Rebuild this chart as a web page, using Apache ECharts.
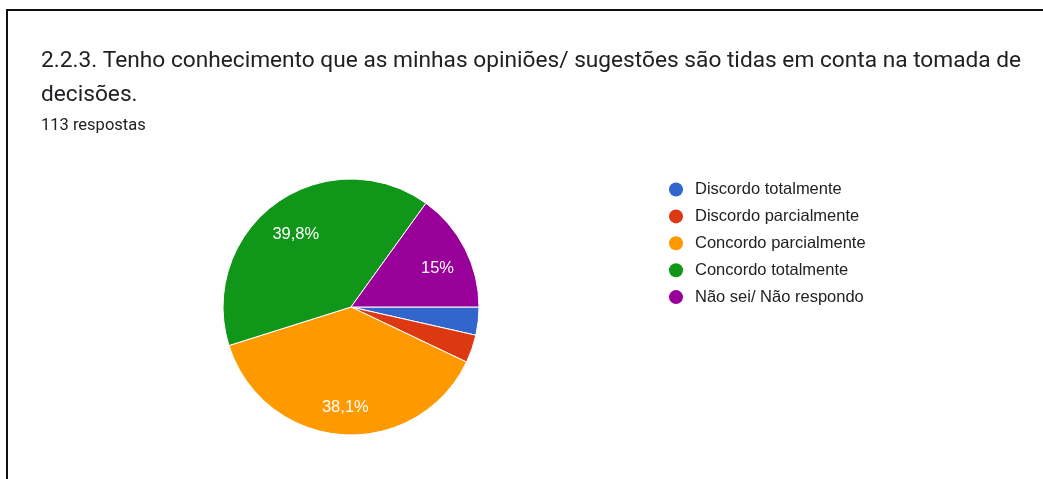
<!DOCTYPE html>
<html>
<head>
<meta charset="utf-8">
<script src="https://cdn.jsdelivr.net/npm/echarts@6/dist/echarts.min.js"></script>
<style>
html,body{margin:0;padding:0;background:#fff;}
#frame{position:absolute;left:6px;top:9px;width:1037px;height:470px;border-left:2px solid #111;border-top:2px solid #111;}
#chart{position:absolute;left:0;top:0;width:1043px;height:479px;}
</style>
</head>
<body>
<div id="frame"></div>
<div id="chart"></div>
<script>
const titleText = "2.2.3. Tenho conhecimento que as minhas opiniões/ sugestões são tidas em conta na tomada de\ndecisões.";
const subtitleText = "113 respostas";
const categories = ["Discordo totalmente", "Discordo parcialmente", "Concordo parcialmente", "Concordo totalmente", "Não sei/ Não respondo"];
const counts = [4, 4, 43, 45, 17];
const colors = ["#3366cc", "#dc3912", "#ff9900", "#109618", "#990099"];

const total = counts.reduce((a, b) => a + b, 0);
const data = categories.map((c, i) => ({ name: c, value: counts[i], itemStyle: { color: colors[i] } }));
function fmt(p) {
  const v = Math.round(p.value / total * 1000) / 10;
  let s = v.toFixed(1).replace('.', ',');
  if (s.endsWith(',0')) s = s.slice(0, -2);
  return s + '%';
}

const chart = echarts.init(document.getElementById('chart'), null, { renderer: 'canvas' });
chart.setOption({
  animation: false,
  title: [
    { text: titleText, left: 41, top: 44, padding: 0, textStyle: { fontFamily: 'Roboto', fontSize: 22.7, fontWeight: 'normal', color: '#202124', lineHeight: 34 } },
    { text: subtitleText, left: 41, top: 117, padding: 0, textStyle: { fontFamily: 'Roboto', fontSize: 16.5, fontWeight: 'normal', color: '#202124' } }
  ],
  legend: {
    orient: 'vertical', left: 669, top: 181, padding: 0, icon: 'circle', itemWidth: 14, itemHeight: 14, itemGap: 9.9,
    data: categories,
    itemStyle: { borderWidth: 0 },
    textStyle: { fontFamily: 'Liberation Sans, Arial', fontSize: 16.5, color: '#222', padding: [0, 0, 0, 7], lineHeight: 14 }
  },
  series: [
    {
      type: 'pie', center: [351, 307], radius: [0, 128], startAngle: 0, clockwise: true,
      data: data, label: { show: false }, labelLine: { show: false },
      itemStyle: { borderColor: '#fff', borderWidth: 1 }, silent: true
    },
    {
      type: 'pie', center: [351, 307], radius: [58, 128], startAngle: 0, clockwise: true,
      data: data.map(d => ({ name: d.name, value: d.value, itemStyle: { color: 'rgba(0,0,0,0)' } })),
      minShowLabelAngle: 20, silent: true, legendHoverLink: false,
      label: { show: true, position: 'inside', formatter: fmt, color: '#fff', fontFamily: 'Liberation Sans, Arial', fontSize: 16.5, offset: [1, 5] },
      labelLine: { show: false }, itemStyle: { borderWidth: 0 }
    }
  ]
});
</script>
</body>
</html>
